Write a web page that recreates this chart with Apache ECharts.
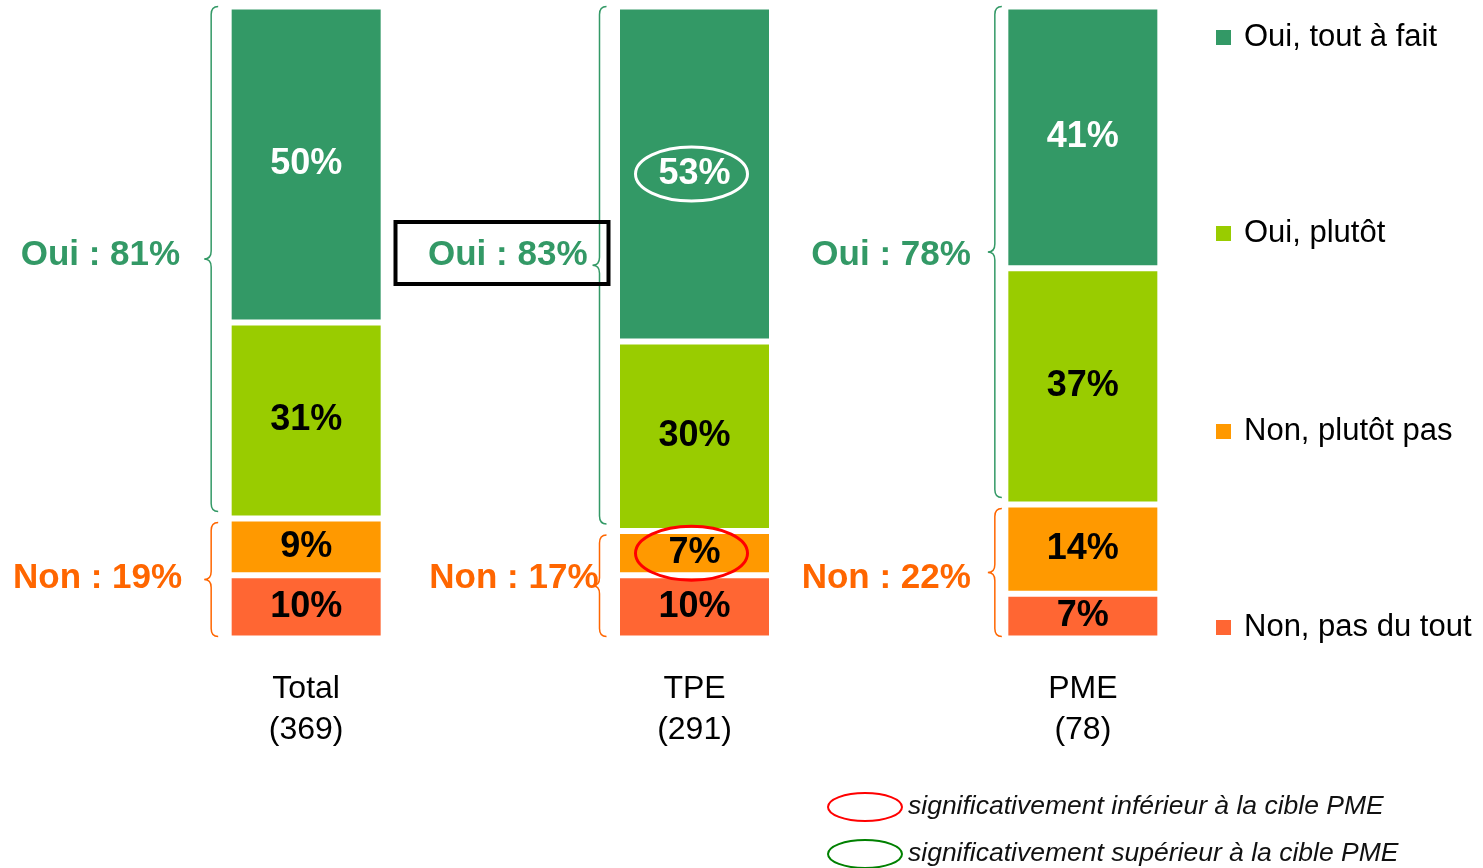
<!DOCTYPE html>
<html>
<head>
<meta charset="utf-8">
<script src="https://cdn.jsdelivr.net/npm/echarts@6/dist/echarts.min.js"></script>
<style>
  html, body { margin: 0; padding: 0; background: #fff; }
  #chart { width: 1483px; height: 868px; }
</style>
</head>
<body>
<div id="chart"></div>
<script>
const categories = ['Total\n(369)', 'TPE\n(291)', 'PME\n(78)'];
const nonPasDuTout = [10, 10, 7];
const nonPlutotPas = [9, 7, 14];
const ouiPlutot = [31, 30, 37];
const ouiToutAFait = [50, 53, 41];
const ouiTotals = [81, 83, 78];
const nonTotals = [19, 17, 22];
// [category, series] significantly different from the PME target
const sigLower = [[1, 1]];
const sigHigher = [[1, 3]];

const FONT = '"Liberation Sans", Arial, sans-serif';
const names = ['Non, pas du tout', 'Non, plutôt pas', 'Oui, plutôt', 'Oui, tout à fait'];
const colors = ['#FF6633', '#FF9900', '#99CC00', '#339966'];
const labelColors = ['#000', '#000', '#000', '#fff'];
const raw = [nonPasDuTout, nonPlutotPas, ouiPlutot, ouiToutAFait];

// 100% stacked: each column scaled to its own total
const colSums = categories.map((c, i) => raw.reduce((s, arr) => s + arr[i], 0));
const norm = raw.map(arr => arr.map((v, i) => v * 100 / colSums[i]));
const nonTop = categories.map((c, i) => norm[0][i] + norm[1][i]);

// placement of braces and their labels (pixels)
const braceDx = [-95, -95, -88];
const ouiTextDx = [-126, -107, -112];
const nonTextDx = [-124, -96, -112];
const ouiTextY = 255;
const nonTextY = 578;
const boxedOui = [false, true, false];

function bracePath(x, y1, y2) {
  const xr = x + 7, xl = x - 7, r = 8, ym = (y1 + y2) / 2;
  return 'M' + xr + ',' + y1 + ' Q' + x + ',' + y1 + ' ' + x + ',' + (y1 + r) +
    ' L' + x + ',' + (ym - r) + ' Q' + x + ',' + ym + ' ' + xl + ',' + ym +
    ' M' + xl + ',' + ym + ' Q' + x + ',' + ym + ' ' + x + ',' + (ym + r) +
    ' L' + x + ',' + (y2 - r) + ' Q' + x + ',' + y2 + ' ' + xr + ',' + y2;
}

function braceSeries(kind) {
  const isOui = kind === 'oui';
  const color = isOui ? '#339966' : '#FF6600';
  return {
    type: 'custom',
    clip: false,
    silent: true,
    z: 5,
    data: categories.map((c, i) => isOui ? [i, nonTop[i], 100] : [i, 0, nonTop[i]]),
    encode: { x: 0, y: [1, 2] },
    renderItem: function (params, api) {
      const i = api.value(0);
      const lo = api.coord([i, api.value(1)]);
      const hi = api.coord([i, api.value(2)]);
      const x = lo[0] + braceDx[i];
      const y1 = isOui ? hi[1] : hi[1] + 4;
      const y2 = isOui ? lo[1] - 7 : lo[1] - 2;
      const ty = isOui ? ouiTextY : nonTextY;
      const tx = lo[0] + (isOui ? ouiTextDx[i] : nonTextDx[i]);
      const text = (isOui ? 'Oui : ' + ouiTotals[i] : 'Non : ' + nonTotals[i]) + '%';
      const children = [
        { type: 'path', shape: { pathData: bracePath(x, y1, y2) },
          style: { fill: 'none', stroke: color, lineWidth: 1.5 } },
        { type: 'text', style: { text: text, x: tx, y: ty, fill: color,
          font: 'bold 35px ' + FONT, align: 'right', verticalAlign: 'middle' } }
      ];
      if (isOui && boxedOui[i]) {
        children.push({ type: 'rect', shape: { x: tx - 192, y: ty - 33, width: 213, height: 62 },
          style: { fill: 'none', stroke: '#000', lineWidth: 4 } });
      }
      return { type: 'group', children: children };
    }
  };
}

function sigSeries(list, color) {
  return {
    type: 'custom',
    clip: false,
    silent: true,
    z: 6,
    data: list.map(([i, s]) => {
      let base = 0;
      for (let k = 0; k < s; k++) base += norm[k][i];
      return [i, base + norm[s][i] / 2];
    }),
    encode: { x: 0, y: 1 },
    renderItem: function (params, api) {
      const c = api.coord([api.value(0), api.value(1)]);
      return { type: 'ellipse', shape: { cx: c[0] - 3, cy: c[1], rx: 56, ry: 27 },
        style: { fill: 'none', stroke: color, lineWidth: 3 } };
    }
  };
}

const barSeries = raw.map((arr, s) => ({
  name: names[s],
  type: 'bar',
  stack: 'total',
  barWidth: 155,
  data: arr.map((v, i) => ({ value: norm[s][i], raw: v })),
  itemStyle: { color: colors[s], borderColor: '#fff', borderWidth: 3 },
  emphasis: { disabled: true },
  label: {
    show: true,
    position: 'inside',
    formatter: p => p.data.raw + '%',
    color: labelColors[s],
    fontSize: 36,
    fontWeight: 'bold',
    fontFamily: FONT,
    textBorderWidth: 0
  }
}));

const legendOrder = ['Oui, tout à fait', 'Oui, plutôt', 'Non, plutôt pas', 'Non, pas du tout'];
const legendTops = [22, 218, 416, 612];

const chart = echarts.init(document.getElementById('chart'));
chart.setOption({
  animation: false,
  color: colors,
  grid: { left: 112, right: 206, top: 6.5, bottom: 229.5 },
  legend: legendOrder.map((n, k) => ({
    data: [n],
    left: 1214,
    top: legendTops[k],
    padding: 0,
    icon: 'rect',
    itemWidth: 17,
    itemHeight: 17,
    selectedMode: false,
    textStyle: { fontSize: 31, lineHeight: 30, fontFamily: FONT, color: '#000', padding: [0, 0, 0, 7] }
  })),
  xAxis: {
    type: 'category',
    data: categories,
    axisLine: { show: false },
    axisTick: { show: false },
    axisLabel: { fontSize: 32, lineHeight: 41, margin: 30, color: '#000', fontFamily: FONT }
  },
  yAxis: { type: 'value', min: 0, max: 100, show: false },
  graphic: [
    { type: 'ellipse', shape: { cx: 865, cy: 807, rx: 37, ry: 14 },
      style: { fill: 'none', stroke: '#FF0000', lineWidth: 2 } },
    { type: 'text', x: 908, y: 807,
      style: { text: 'significativement inférieur à la cible PME', font: 'italic 26.5px ' + FONT,
        fill: '#111', verticalAlign: 'middle' } },
    { type: 'ellipse', shape: { cx: 865, cy: 854, rx: 37, ry: 14 },
      style: { fill: 'none', stroke: '#008000', lineWidth: 2 } },
    { type: 'text', x: 908, y: 854,
      style: { text: 'significativement supérieur à la cible PME', font: 'italic 26.5px ' + FONT,
        fill: '#111', verticalAlign: 'middle' } }
  ],
  series: barSeries.concat([
    braceSeries('oui'),
    braceSeries('non'),
    sigSeries(sigLower, '#FF0000'),
    sigSeries(sigHigher, '#FFFFFF')
  ])
});
window.addEventListener('resize', () => chart.resize());
</script>
</body>
</html>
